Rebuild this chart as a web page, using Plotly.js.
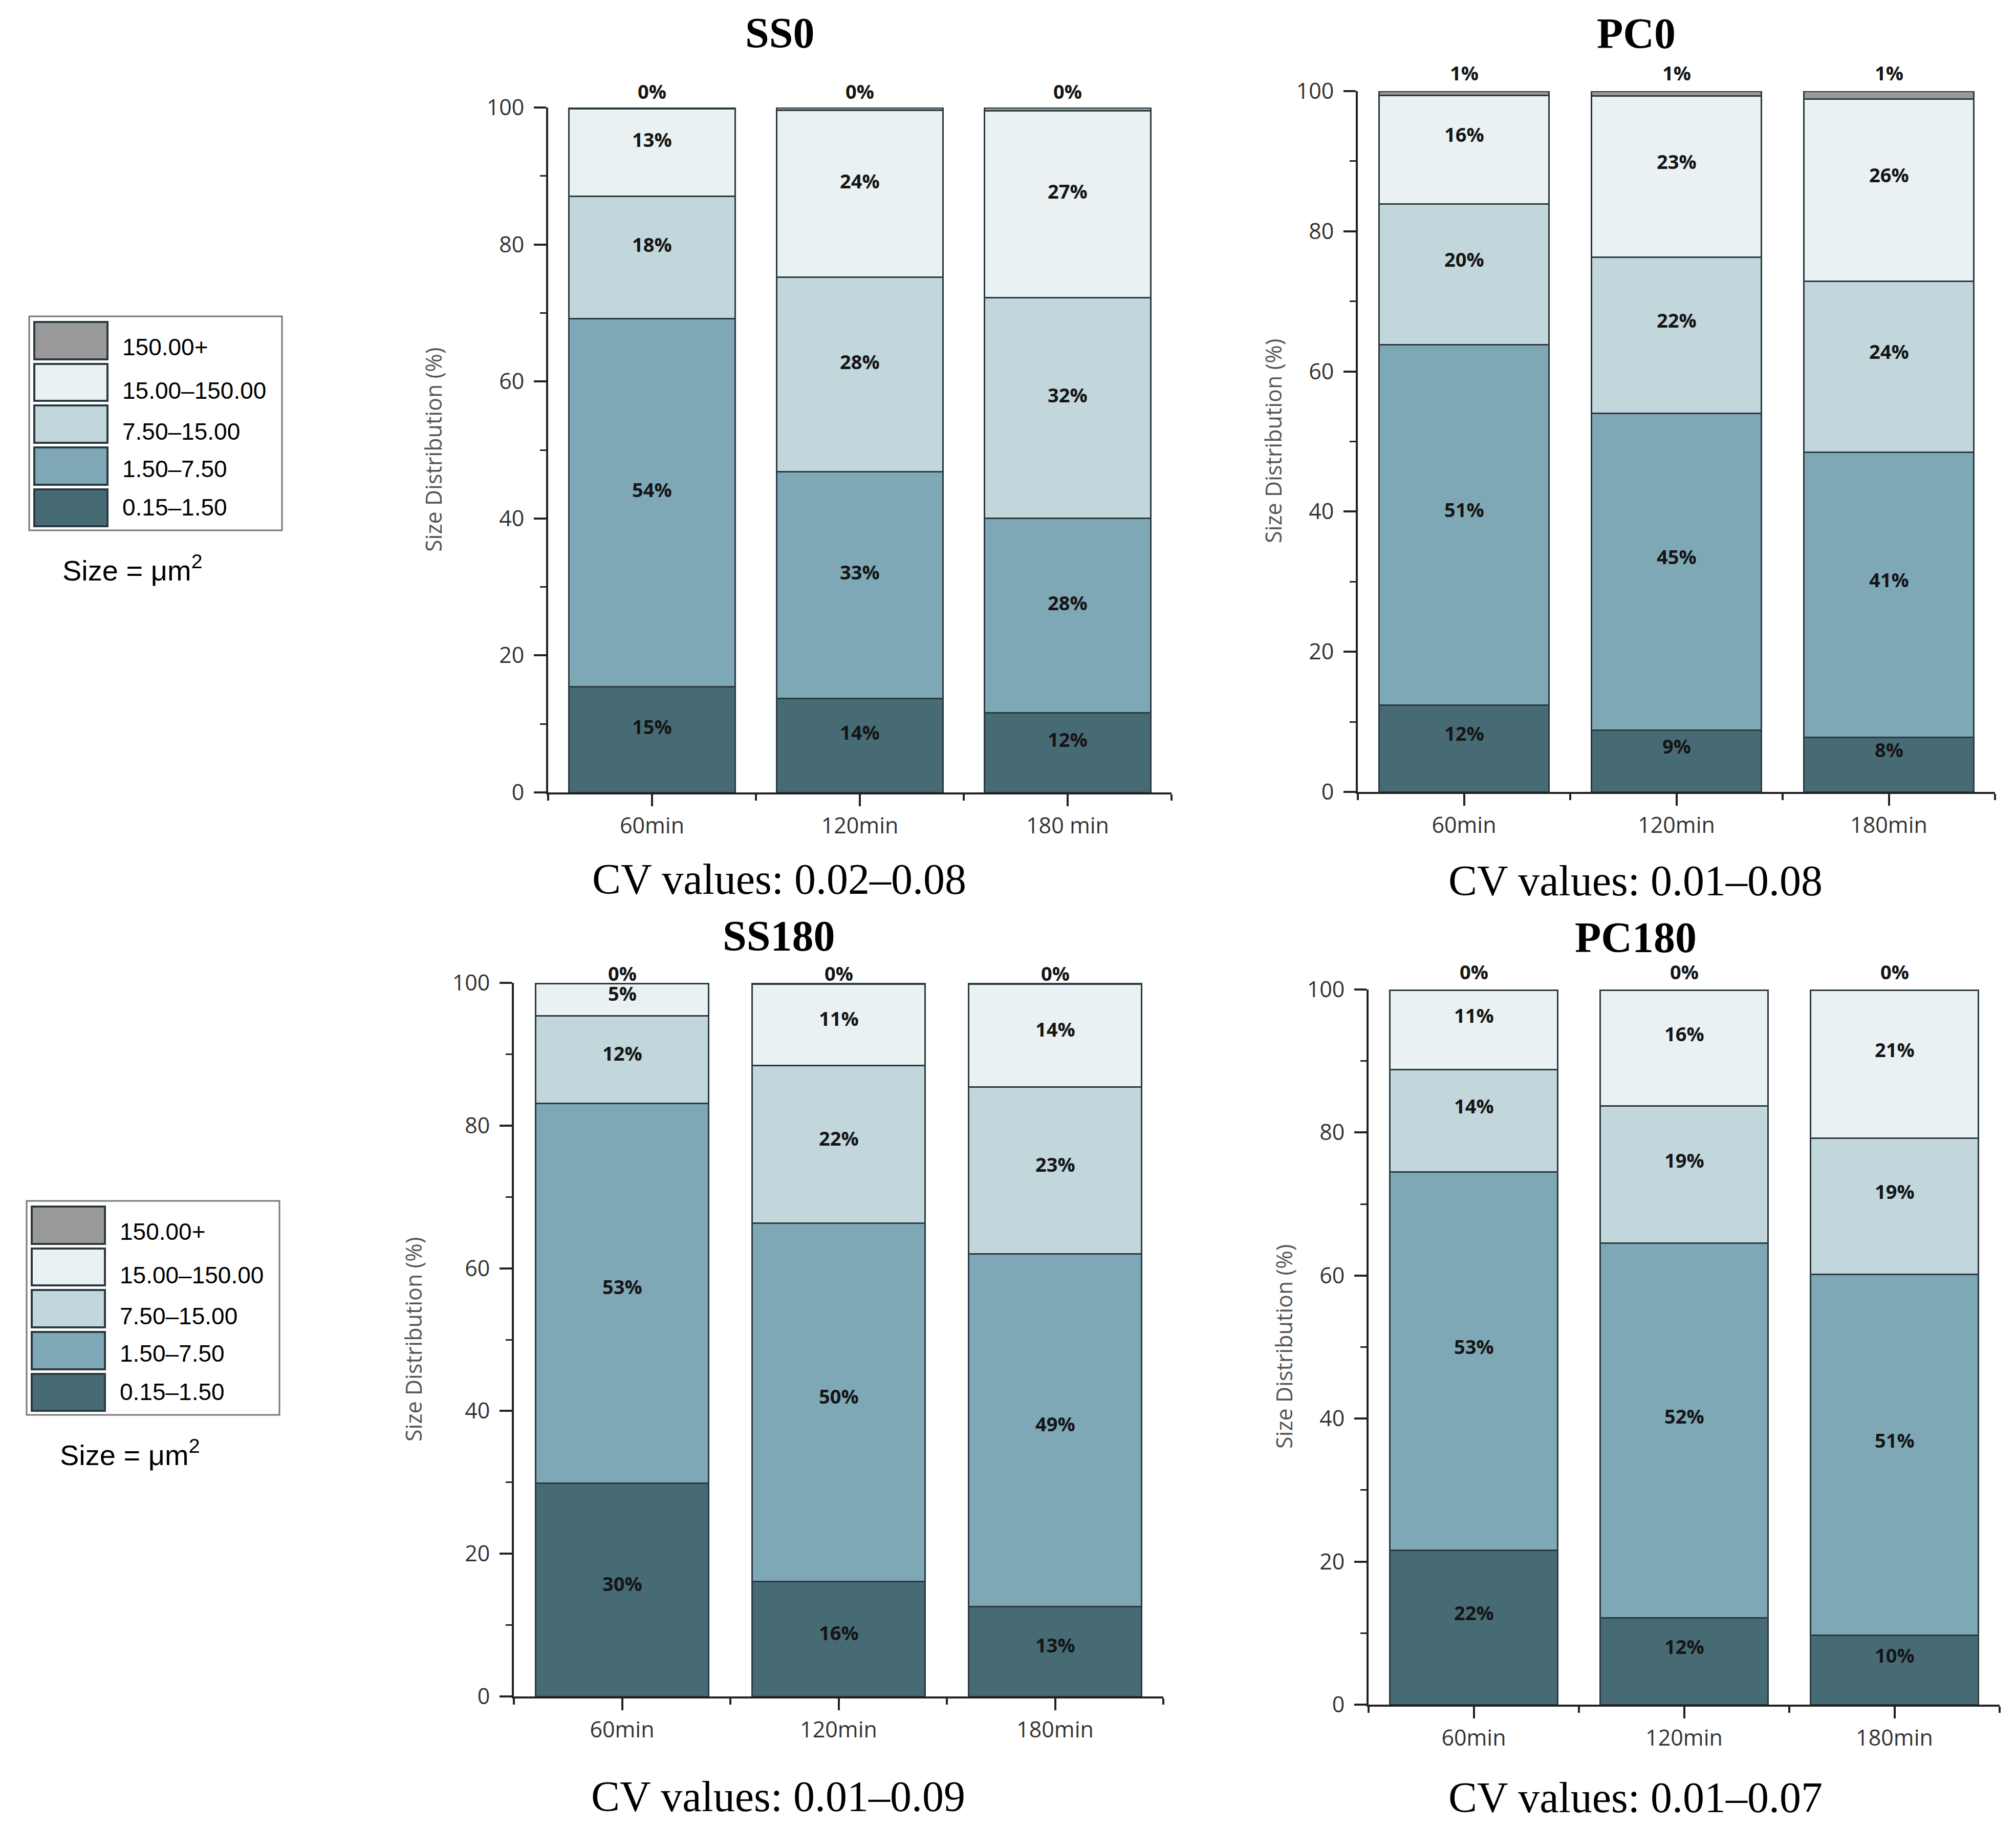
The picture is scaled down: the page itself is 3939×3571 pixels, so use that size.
<!DOCTYPE html>
<html>
<head>
<meta charset="utf-8">
<script src="https://cdn.plot.ly/plotly-3.0.1.min.js"></script>
<style>html,body{margin:0;padding:0;background:#fff;}#chart{width:3939px;height:3571px;}</style>
</head>
<body>
<div id="chart"></div>
<script>
// ---------------- DATA ----------------
const sizeClasses = ['0.15–1.50', '1.50–7.50', '7.50–15.00', '15.00–150.00', '150.00+'];
const timesA = ['60min', '120min', '180 min'];
const timesB = ['60min', '120min', '180min'];

// SS0 (per size class, values for 60/120/180 min, %)
const ss0_c1 = [15.4, 13.7, 11.6];
const ss0_c2 = [53.8, 33.1, 28.4];
const ss0_c3 = [17.8, 28.4, 32.2];
const ss0_c4 = [12.8, 24.4, 27.35];
const ss0_c5 = [0.2, 0.4, 0.45];

// PC0
const pc0_c1 = [12.4, 8.8, 7.8];
const pc0_c2 = [51.4, 45.2, 40.7];
const pc0_c3 = [20.1, 22.3, 24.4];
const pc0_c4 = [15.5, 23.0, 26.0];
const pc0_c5 = [0.6, 0.7, 1.1];

// SS180
const ss180_c1 = [29.9, 16.1, 12.6];
const ss180_c2 = [53.2, 50.2, 49.4];
const ss180_c3 = [12.3, 22.1, 23.4];
const ss180_c4 = [4.5, 11.4, 14.4];
const ss180_c5 = [0.1, 0.2, 0.2];

// PC180
const pc180_c1 = [21.6, 12.1, 9.7];
const pc180_c2 = [52.9, 52.4, 50.5];
const pc180_c3 = [14.3, 19.2, 19.0];
const pc180_c4 = [11.1, 16.2, 20.7];
const pc180_c5 = [0.1, 0.1, 0.1];

const panelTitles = ['SS0', 'PC0', 'SS180', 'PC180'];
const cvTexts = ['CV values: 0.02–0.08', 'CV values: 0.01–0.08', 'CV values: 0.01–0.09', 'CV values: 0.01–0.07'];

// ---------------- STYLE ----------------
const W = 3939, H = 3571;
const colors = ['#476b75', '#7fa8b7', '#c2d7dc', '#e9f1f3', '#999999'];
const px = v => v / W;
const py = v => 1 - v / H;

const panels = [
  {series: [ss0_c1, ss0_c2, ss0_c3, ss0_c4, ss0_c5], cats: timesA,
   x: [1071, 2289], y: [1548, 210], title: [1523, 64], cv: [1522, 1717], ytitle: [847, 879], lshift: 26},
  {series: [pc0_c1, pc0_c2, pc0_c3, pc0_c4, pc0_c5], cats: timesB,
   x: [2653, 3898], y: [1547, 178], title: [3197, 66], cv: [3195, 1720], ytitle: [2487, 862], lshift: 30},
  {series: [ss180_c1, ss180_c2, ss180_c3, ss180_c4, ss180_c5], cats: timesB,
   x: [1004, 2273], y: [3314, 1920], title: [1521, 1829], cv: [1520, 3509], ytitle: [807, 2617], lshift: 13},
  {series: [pc180_c1, pc180_c2, pc180_c3, pc180_c4, pc180_c5], cats: timesB,
   x: [2674, 3907], y: [3330, 1933], title: [3196, 1831], cv: [3195, 3511], ytitle: [2508, 2631], lshift: 29}
];

const tickFont = {family: 'Open Sans, sans-serif', size: 43, color: '#333'};
const labelFont = {family: 'Open Sans, sans-serif', size: 38, color: '#151515', weight: 'bold'};
const data = [];
const annotations = [];
const shapes = [];
const layout = {
  width: W, height: H, margin: {l: 0, r: 0, t: 0, b: 0},
  paper_bgcolor: '#ffffff', plot_bgcolor: 'rgba(0,0,0,0)',
  showlegend: false, barmode: 'stack', bargap: 0.2,
  font: {family: 'Open Sans, sans-serif'}
};

panels.forEach((p, k) => {
  const sfx = k === 0 ? '' : String(k + 1);
  const xa = 'x' + sfx, ya = 'y' + sfx;
  const idx = p.cats.map((c, i) => i);
  layout['xaxis' + sfx] = {
    domain: [px(p.x[0]), px(p.x[1])], range: [-0.5, 2.5], anchor: ya,
    tickmode: 'array', tickvals: idx, ticktext: p.cats,
    ticks: 'outside', ticklen: 23, tickwidth: 4, tickcolor: '#222',
    showline: true, linewidth: 4, linecolor: '#222',
    showgrid: false, zeroline: false, tickfont: tickFont, ticklabelstandoff: 1,
    minor: {tickmode: 'array', tickvals: [-0.5, 0.5, 1.5, 2.5], ticks: 'outside', ticklen: 12, tickwidth: 4, tickcolor: '#222', showgrid: false},
    fixedrange: true
  };
  layout['yaxis' + sfx] = {
    domain: [py(p.y[0]), py(p.y[1])], range: [0, 100], anchor: xa,
    tickmode: 'linear', tick0: 0, dtick: 20,
    ticks: 'outside', ticklen: 24, tickwidth: 4, tickcolor: '#222',
    showline: true, linewidth: 4, linecolor: '#222',
    showgrid: false, zeroline: false, tickfont: tickFont, ticklabelstandoff: 10,
    minor: {dtick: 10, tick0: 0, ticks: 'outside', ticklen: 12, tickwidth: 3, tickcolor: '#222', showgrid: false},
    fixedrange: true
  };
  const cum = idx.map(() => 0);
  p.series.forEach((vals, s) => {
    data.push({
      type: 'bar', x: idx, y: vals, xaxis: xa, yaxis: ya,
      name: sizeClasses[s], marker: {color: colors[s], line: {color: '#2b3a3f', width: 3}},
      hoverinfo: 'skip', showlegend: false
    });
    vals.forEach((v, i) => {
      const top = s === p.series.length - 1;
      // keep the label anchor inside the axis range so Plotly draws it
      const yTop = Math.min(cum[i] + v, 100);
      annotations.push({
        xref: xa, yref: ya, x: i, y: top ? yTop : cum[i] + v / 2,
        text: Math.round(v) + '%', showarrow: false,
        xanchor: 'center', yanchor: top ? 'bottom' : 'middle',
        yshift: top ? p.lshift - 22 : p.lshift, font: labelFont
      });
      cum[i] += v;
    });
  });
  annotations.push({xref: 'paper', yref: 'paper', x: px(p.title[0]), y: py(p.title[1]),
    text: '<b>' + panelTitles[k] + '</b>', showarrow: false, xanchor: 'center', yanchor: 'middle',
    font: {family: 'Liberation Serif, Times New Roman, serif', size: 84, color: '#000'}});
  annotations.push({xref: 'paper', yref: 'paper', x: px(p.cv[0]), y: py(p.cv[1]),
    text: cvTexts[k], showarrow: false, xanchor: 'center', yanchor: 'middle',
    font: {family: 'Liberation Serif, Times New Roman, serif', size: 84, color: '#000'}});
  annotations.push({xref: 'paper', yref: 'paper', x: px(p.ytitle[0]), y: py(p.ytitle[1]),
    text: 'Size Distribution (%)', textangle: -90, showarrow: false, xanchor: 'center', yanchor: 'middle',
    font: {family: 'Open Sans, sans-serif', size: 43, color: '#555'}});
});

// ---------------- LEGEND BOXES (drawn twice) ----------------
const legendOrigins = [[0, 0], [-5, 1728]];
legendOrigins.forEach(([dx, dy]) => {
  shapes.push({type: 'rect', xref: 'paper', yref: 'paper',
    x0: px(57 + dx), x1: px(551 + dx), y0: py(618 + dy), y1: py(1036 + dy),
    line: {color: '#777', width: 3}, fillcolor: '#fff', layer: 'below'});
  const rows = [[629, 702], [711, 783], [792, 865], [874, 947], [956, 1028]];
  const textY = [678, 763, 843, 916, 991];
  rows.forEach((r, j) => {
    const s = sizeClasses.length - 1 - j;
    shapes.push({type: 'rect', xref: 'paper', yref: 'paper',
      x0: px(67 + dx), x1: px(210 + dx), y0: py(r[1] + dy), y1: py(r[0] + dy),
      line: {color: '#2b3a3f', width: 4}, fillcolor: colors[s]});
    annotations.push({xref: 'paper', yref: 'paper', x: px(237 + dx), y: py(textY[j] + dy),
      text: sizeClasses[s], showarrow: false, xanchor: 'left', yanchor: 'middle',
      font: {family: 'Liberation Sans, Arial, sans-serif', size: 46, color: '#000'}});
  });
  annotations.push({xref: 'paper', yref: 'paper', x: px(258 + dx), y: py(1110 + dy),
    text: 'Size = μm<sup>2</sup>', showarrow: false, xanchor: 'center', yanchor: 'middle',
    font: {family: 'Liberation Sans, Arial, sans-serif', size: 56, color: '#000'}});
});

layout.annotations = annotations;
layout.shapes = shapes;
Plotly.newPlot('chart', data, layout, {staticPlot: true, displayModeBar: false});
</script>
</body>
</html>
